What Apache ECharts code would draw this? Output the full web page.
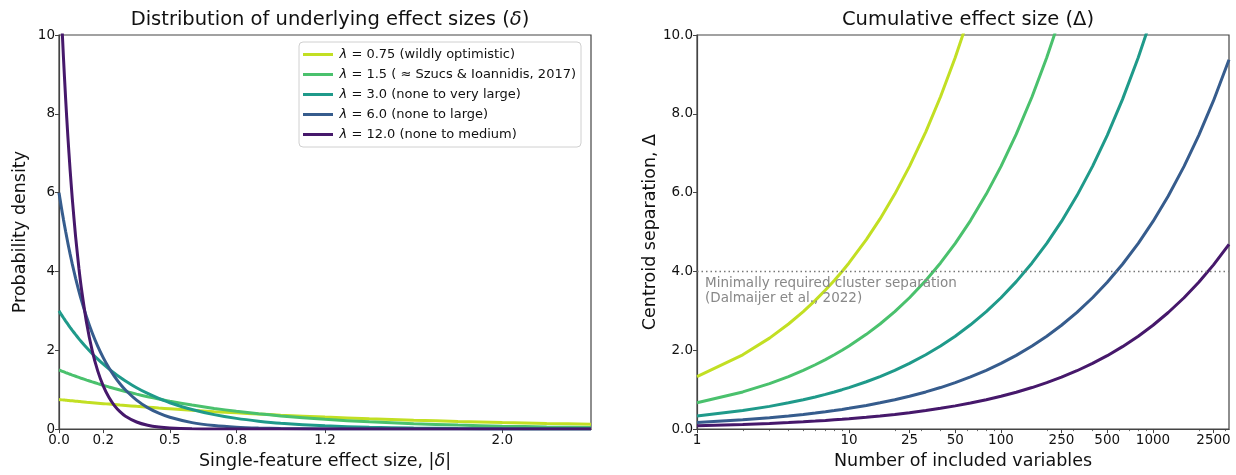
<!DOCTYPE html>
<html>
<head>
<meta charset="utf-8">
<script src="https://cdn.jsdelivr.net/npm/echarts@6/dist/echarts.min.js"></script>
<style>
html,body{margin:0;padding:0;background:#fff;}
#chart{width:1236px;height:475px;}
</style>
</head>
<body>
<div id="chart"></div>
<script>
// ---------- Data ----------
const lambdaLabels = ['0.75 (wildly optimistic)', '1.5 ( \u2248 Szucs & Ioannidis, 2017)', '3.0 (none to very large)', '6.0 (none to large)', '12.0 (none to medium)'];
const colors = ['#c2df23', '#4ac16d', '#1f9a8a', '#365c8d', '#46186b'];

// Left panel: effect size |delta| and probability density per lambda
const effectSize = [0, 0.01, 0.02, 0.03, 0.04, 0.05, 0.06, 0.075, 0.09, 0.1, 0.125, 0.15, 0.175, 0.2, 0.225, 0.25, 0.275, 0.3, 0.35, 0.4, 0.45, 0.5, 0.6, 0.7, 0.8, 0.9, 1.0, 1.2, 1.4, 1.6, 1.8, 2.0, 2.2, 2.4];
const densL075 = [0.75, 0.744, 0.739, 0.733, 0.728, 0.722, 0.717, 0.709, 0.701, 0.696, 0.682, 0.670, 0.658, 0.646, 0.634, 0.622, 0.610, 0.599, 0.577, 0.556, 0.535, 0.516, 0.478, 0.443, 0.412, 0.382, 0.354, 0.305, 0.262, 0.226, 0.194, 0.167, 0.144, 0.124];
const densL15  = [1.5, 1.478, 1.456, 1.434, 1.413, 1.392, 1.371, 1.341, 1.311, 1.291, 1.243, 1.198, 1.154, 1.111, 1.070, 1.031, 0.993, 0.956, 0.887, 0.823, 0.764, 0.708, 0.610, 0.525, 0.452, 0.389, 0.335, 0.248, 0.184, 0.136, 0.101, 0.075, 0.055, 0.041];
const densL3   = [3.0, 2.911, 2.825, 2.742, 2.661, 2.582, 2.506, 2.396, 2.290, 2.222, 2.062, 1.913, 1.775, 1.646, 1.528, 1.417, 1.315, 1.220, 1.050, 0.904, 0.778, 0.669, 0.496, 0.367, 0.272, 0.202, 0.149, 0.082, 0.045, 0.025, 0.014, 0.007, 0.004, 0.002];
const densL6   = [6.0, 5.651, 5.322, 5.012, 4.720, 4.445, 4.186, 3.826, 3.496, 3.293, 2.834, 2.439, 2.099, 1.807, 1.555, 1.339, 1.152, 0.992, 0.735, 0.544, 0.403, 0.299, 0.164, 0.090, 0.049, 0.027, 0.015, 0.004, 0.001, 0, 0, 0, 0, 0];
const densL12  = [12.0, 10.641, 9.440, 8.372, 7.425, 6.586, 5.841, 4.880, 4.075, 3.614, 2.678, 1.984, 1.470, 1.089, 0.806, 0.597, 0.443, 0.328, 0.180, 0.099, 0.054, 0.030, 0.009, 0.003, 0.001, 0, 0, 0, 0, 0, 0, 0, 0, 0];
const leftTicks = [0.0, 0.2, 0.5, 0.8, 1.2, 2.0];

// Right panel: number of variables and cumulative effect size per lambda
const nVars = [1, 2, 3, 4, 5, 6, 7, 8, 9, 10, 13, 16, 20, 25, 32, 40, 50, 63, 80, 100, 126, 160, 200, 250, 316, 400, 500, 630, 800, 1000, 1260, 1600, 2000, 2500, 3162];
const cumL075 = [1.333, 1.886, 2.309, 2.667, 2.981, 3.266, 3.528, 3.771, 4.0, 4.216, 4.807, 5.333, 5.963, 6.667, 7.542, 8.433, 9.428, 10.583];
const cumL15  = [0.667, 0.943, 1.155, 1.333, 1.491, 1.633, 1.764, 1.886, 2.0, 2.108, 2.404, 2.667, 2.981, 3.333, 3.771, 4.216, 4.714, 5.291, 5.963, 6.667, 7.483, 8.433, 9.428, 10.541];
const cumL3   = [0.333, 0.471, 0.577, 0.667, 0.745, 0.816, 0.882, 0.943, 1.0, 1.054, 1.202, 1.333, 1.491, 1.667, 1.886, 2.108, 2.357, 2.646, 2.981, 3.333, 3.742, 4.216, 4.714, 5.270, 5.925, 6.667, 7.454, 8.367, 9.428, 10.541];
const cumL6   = [0.167, 0.236, 0.289, 0.333, 0.373, 0.408, 0.441, 0.471, 0.5, 0.527, 0.601, 0.667, 0.745, 0.833, 0.943, 1.054, 1.179, 1.323, 1.491, 1.667, 1.871, 2.108, 2.357, 2.635, 2.963, 3.333, 3.727, 4.183, 4.714, 5.270, 5.916, 6.667, 7.454, 8.333, 9.372];
const cumL12  = [0.083, 0.118, 0.144, 0.167, 0.186, 0.204, 0.220, 0.236, 0.25, 0.264, 0.300, 0.333, 0.373, 0.417, 0.471, 0.527, 0.589, 0.661, 0.745, 0.833, 0.935, 1.054, 1.179, 1.318, 1.481, 1.667, 1.863, 2.092, 2.357, 2.635, 2.958, 3.333, 3.727, 4.167, 4.686];
const rightTicks = [1, 10, 25, 50, 100, 250, 500, 1000, 2500];
const rightMinorTicks = [2, 3, 4, 5, 6, 7, 8, 9, 20, 30, 40, 60, 70, 80, 90, 200, 300, 400, 600, 700, 800, 900, 2000, 3000];
const threshold = [4];

// ---------- Chart ----------
const chart = echarts.init(document.getElementById('chart'), null, {renderer: 'canvas'});
const FONT = 'DejaVu Sans';
const AX = '#444';
const densSets = [densL075, densL15, densL3, densL6, densL12];
const cumSets = [cumL075, cumL15, cumL3, cumL6, cumL12];
const names = lambdaLabels.map(s => 'lam' + s);

const series = [];
densSets.forEach((arr, i) => {
  series.push({
    name: names[i], type: 'line', xAxisIndex: 0, yAxisIndex: 0,
    data: effectSize.map((x, j) => [x, arr[j]]),
    showSymbol: false, smooth: 0.2, clip: true,
    lineStyle: {color: colors[i], width: 3}, itemStyle: {color: colors[i]},
    z: 3
  });
});
cumSets.forEach((arr, i) => {
  series.push({
    name: names[i], type: 'line', xAxisIndex: 1, yAxisIndex: 1,
    data: arr.map((v, j) => [nVars[j], v]),
    showSymbol: false, clip: true,
    lineStyle: {color: colors[i], width: 3}, itemStyle: {color: colors[i]},
    z: 3,
    markLine: i === 0 ? {
      silent: true, symbol: 'none',
      lineStyle: {color: '#777', type: [1.5, 3], width: 1.3},
      label: {show: false},
      data: threshold.map(t => ({yAxis: t}))
    } : undefined
  });
});

const axisCommon = {
  axisLine: {show: true, onZero: false, lineStyle: {color: AX, width: 1.2}},
  axisTick: {show: true, inside: false, length: 4, lineStyle: {color: AX, width: 1}},
  axisLabel: {color: '#111', fontFamily: FONT, fontSize: 13.5, margin: 4},
  splitLine: {show: false},
  nameTextStyle: {color: '#111', fontFamily: FONT, fontSize: 17.5}
};

const option = {
  animation: false,
  backgroundColor: '#fff',
  title: [
    {text: '{n|Distribution of underlying effect sizes (}{i|\u03b4}{n|)}', left: 325, top: 5, textAlign: 'center',
     textStyle: {fontWeight: 'normal', rich: {
       n: {fontFamily: FONT, fontSize: 19.5, fontWeight: 'normal', color: '#111'},
       i: {fontFamily: FONT, fontSize: 19.5, fontWeight: 'normal', fontStyle: 'italic', color: '#111'}}}},
    {text: 'Cumulative effect size (\u0394)', left: 963, top: 5, textAlign: 'center',
     textStyle: {fontFamily: FONT, fontSize: 19.5, fontWeight: 'normal', color: '#111'}}
  ],
  legend: {
    data: names, orient: 'vertical', left: 299, top: 42,
    padding: [6, 5, 6, 4], itemGap: 7,
    backgroundColor: '#fff', borderColor: '#d0d0d0', borderWidth: 1, borderRadius: 4,
    icon: 'rect', itemWidth: 30, itemHeight: 3,
    selectedMode: false, z: 10,
    formatter: n => '{s| }{i|\u03bb}{n| = ' + n.slice(3) + '}',
    textStyle: {rich: {
      s: {fontFamily: FONT, fontSize: 5, lineHeight: 16},
      i: {fontFamily: FONT, fontSize: 13, fontStyle: 'italic', color: '#111', lineHeight: 16},
      n: {fontFamily: FONT, fontSize: 13, color: '#111', lineHeight: 16}
    }}
  },
  grid: [
    {left: 59, right: 645, top: 35, bottom: 44, show: true, borderColor: AX, borderWidth: 1.2, backgroundColor: 'transparent'},
    {left: 697, right: 7, top: 35, bottom: 44, show: true, borderColor: AX, borderWidth: 1.2, backgroundColor: 'transparent'}
  ],
  xAxis: [
    Object.assign({}, axisCommon, {
      type: 'value', gridIndex: 0, min: 0, max: 2.4,
      name: '{n|Single-feature effect size, |}{i|\u03b4}{n||}', nameLocation: 'middle', nameGap: 22,
      nameTextStyle: {rich: {n: {fontFamily: FONT, fontSize: 17.5, color: '#111'}, i: {fontFamily: FONT, fontSize: 17.5, fontStyle: 'italic', color: '#111'}}},
      axisTick: Object.assign({}, axisCommon.axisTick, {customValues: leftTicks}),
      axisLabel: Object.assign({}, axisCommon.axisLabel, {customValues: leftTicks, formatter: v => v.toFixed(1)})
    }),
    Object.assign({}, axisCommon, {
      type: 'log', logBase: 10, gridIndex: 1, min: 1, max: 3162,
      name: 'Number of included variables', nameLocation: 'middle', nameGap: 22,
      axisTick: Object.assign({}, axisCommon.axisTick, {customValues: rightTicks}),
      axisLabel: Object.assign({}, axisCommon.axisLabel, {customValues: rightTicks, formatter: v => String(Math.round(v))})
    }),
    {
      type: 'log', logBase: 10, gridIndex: 1, min: 1, max: 3162, position: 'bottom',
      axisLine: {show: false}, axisLabel: {show: false}, splitLine: {show: false},
      axisTick: {show: true, length: 2, customValues: rightMinorTicks, lineStyle: {color: AX, width: 0.8}}
    }
  ],
  yAxis: [
    Object.assign({}, axisCommon, {
      type: 'value', gridIndex: 0, min: 0, max: 10, interval: 2,
      name: 'Probability density', nameLocation: 'middle', nameGap: 30,
      axisLabel: Object.assign({}, axisCommon.axisLabel, {formatter: v => String(v)})
    }),
    Object.assign({}, axisCommon, {
      type: 'value', gridIndex: 1, min: 0, max: 10, interval: 2,
      name: 'Centroid separation, \u0394', nameLocation: 'middle', nameGap: 38,
      axisLabel: Object.assign({}, axisCommon.axisLabel, {formatter: v => v.toFixed(1)})
    })
  ],
  graphic: [
    {type: 'text', left: 705, top: 276, z: 5,
     style: {text: 'Minimally required cluster separation\n(Dalmaijer et al., 2022)', fill: '#888', font: '13.5px "DejaVu Sans"', lineHeight: 15}}
  ],
  series: series
};
chart.setOption(option);
</script>
</body>
</html>
